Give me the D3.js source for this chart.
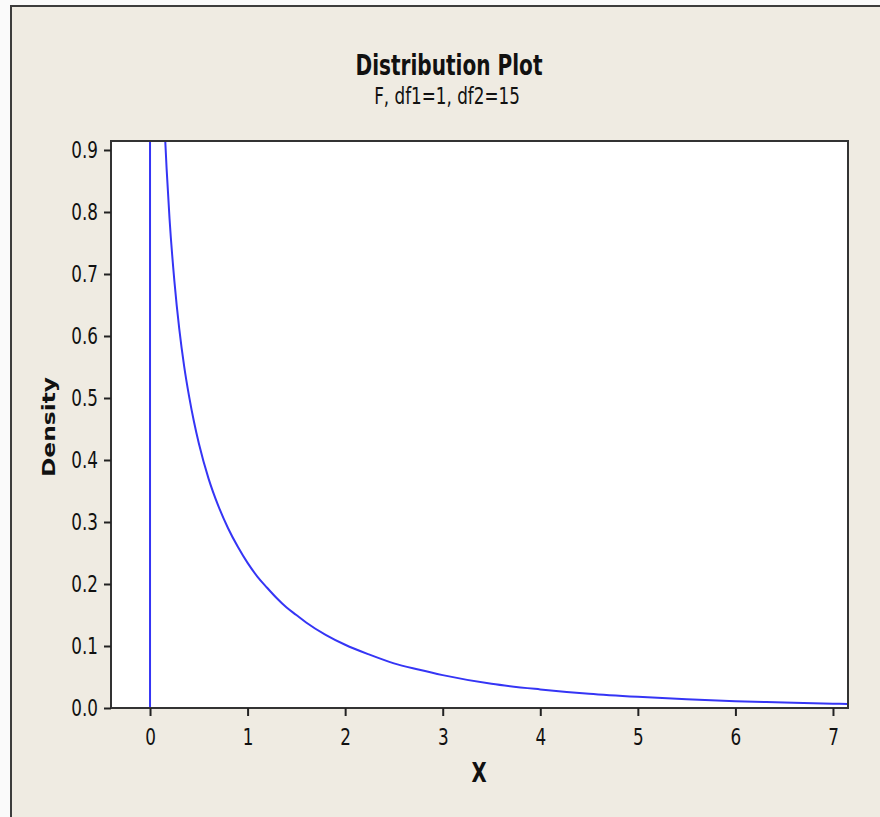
<!DOCTYPE html>
<html>
<head>
<meta charset="utf-8">
<script src="https://cdn.jsdelivr.net/npm/d3@7"></script>
<style>
  html, body { margin: 0; padding: 0; background: #fafafa; }
  text { font-family: "DejaVu Sans", sans-serif; fill: #111; }
</style>
</head>
<body>
<div class="canvas"></div>
<script>
// sizes
const w = 880;
const h = 817;
const margin = { top: 141, right: 32, bottom: 109, left: 111 };
const graphWidth = w - margin.left - margin.right;
const graphHeight = h - margin.top - margin.bottom;
const squeeze = 0.73; // the reference font is narrow

// data: F density, df1 = 1, df2 = 15
const xValues = [0.155, 0.17, 0.2, 0.25, 0.3, 0.35, 0.4, 0.45, 0.5, 0.6, 0.7, 0.8, 0.9, 1.0, 1.1, 1.2, 1.3, 1.4, 1.5, 1.6, 1.8, 2.0, 2.25, 2.5, 2.75, 3.0, 3.5, 4.0, 4.5, 5.0, 5.5, 6.0, 6.5, 7.0, 7.15];
const density = [0.918, 0.870, 0.789, 0.688, 0.611, 0.551, 0.503, 0.462, 0.427, 0.370, 0.326, 0.290, 0.260, 0.234, 0.212, 0.194, 0.177, 0.162, 0.150, 0.138, 0.118, 0.102, 0.086, 0.072, 0.062, 0.053, 0.039, 0.030, 0.023, 0.018, 0.014, 0.011, 0.009, 0.007, 0.0065];
const lowerBound = 0; // support of the distribution starts at 0

// axes ticks
const xTicks = [0, 1, 2, 3, 4, 5, 6, 7];
const yTicks = [0.0, 0.1, 0.2, 0.3, 0.4, 0.5, 0.6, 0.7, 0.8, 0.9];

const title = "Distribution Plot";
const subtitle = "F, df1=1, df2=15";

const svg = d3.select(".canvas").append("svg").attr("width", w).attr("height", h);

// beige window background with dark top/left edge
svg.append("rect").attr("x", 10).attr("y", 5).attr("width", w).attr("height", h).attr("fill", "#efebe2");
svg.append("line").attr("x1", 11).attr("x2", w).attr("y1", 6).attr("y2", 6).attr("stroke", "#3c3c3c").attr("stroke-width", 2);
svg.append("line").attr("x1", 11).attr("x2", 11).attr("y1", 5).attr("y2", h).attr("stroke", "#3c3c3c").attr("stroke-width", 2);

const graph = svg.append("g").attr("transform", `translate(${margin.left}, ${margin.top})`);

const xScale = d3.scaleLinear().domain([-0.4, 7.154]).range([0, graphWidth]);
const yScale = d3.scaleLinear().domain([0, 0.9145]).range([graphHeight, 0]);

// plot area
graph.append("rect").attr("width", graphWidth).attr("height", graphHeight).attr("fill", "#fff");

svg.append("defs").append("clipPath").attr("id", "clip")
  .append("rect").attr("width", graphWidth).attr("height", graphHeight);

const plot = graph.append("g").attr("clip-path", "url(#clip)");

// vertical line at the lower bound
plot.append("line")
  .attr("x1", xScale(lowerBound)).attr("x2", xScale(lowerBound))
  .attr("y1", yScale(0)).attr("y2", 0)
  .attr("stroke", "#3535f5").attr("stroke-width", 2);

const line = d3.line()
  .x((d, i) => xScale(xValues[i]))
  .y((d) => yScale(d))
  .curve(d3.curveMonotoneX);

plot.append("path")
  .datum(density)
  .attr("d", line)
  .attr("fill", "none")
  .attr("stroke", "#3535f5")
  .attr("stroke-width", 2);

// frame
graph.append("rect").attr("width", graphWidth).attr("height", graphHeight)
  .attr("fill", "none").attr("stroke", "#333").attr("stroke-width", 2);

// axes
const xAxis = d3.axisBottom(xScale).tickValues(xTicks).tickFormat(d3.format("d")).tickSizeInner(8).tickSizeOuter(0).tickPadding(13);
const yAxis = d3.axisLeft(yScale).tickValues(yTicks).tickFormat(d3.format(".1f")).tickSizeInner(7).tickSizeOuter(0).tickPadding(6);

const gx = graph.append("g").attr("transform", `translate(0, ${graphHeight})`).call(xAxis);
const gy = graph.append("g").call(yAxis);

[gx, gy].forEach((g) => {
  g.select(".domain").remove();
  g.selectAll(".tick line").attr("stroke", "#222").attr("stroke-width", 2);
  g.selectAll(".tick text")
    .attr("font-family", "DejaVu Sans")
    .attr("font-size", 23)
    .attr("fill", "#111");
});

gx.selectAll(".tick text").each(function () {
  const t = d3.select(this);
  const y = +t.attr("y");
  t.attr("y", null).attr("transform", `translate(0, ${y}) scale(${squeeze}, 1)`);
});
gy.selectAll(".tick text").each(function () {
  const t = d3.select(this);
  t.attr("x", null).attr("transform", `translate(-13, 0) scale(${squeeze}, 1)`);
});

// titles
svg.append("text")
  .attr("transform", `translate(449, 75) scale(${squeeze}, 1)`)
  .attr("text-anchor", "middle")
  .attr("font-size", 27.5)
  .attr("font-weight", "bold")
  .text(title);

svg.append("text")
  .attr("transform", `translate(447, 104) scale(${squeeze}, 1)`)
  .attr("text-anchor", "middle")
  .attr("font-size", 23)
  .text(subtitle);

// axis titles
svg.append("text")
  .attr("transform", `translate(479, 782) scale(${squeeze}, 1)`)
  .attr("text-anchor", "middle")
  .attr("font-size", 27)
  .attr("font-weight", "bold")
  .text("X");

svg.append("text")
  .attr("transform", "translate(55, 427) rotate(-90)")
  .attr("text-anchor", "middle")
  .attr("font-size", 18)
  .attr("font-weight", "bold")
  .attr("textLength", 100)
  .attr("lengthAdjust", "spacingAndGlyphs")
  .text("Density");
</script>
</body>
</html>
